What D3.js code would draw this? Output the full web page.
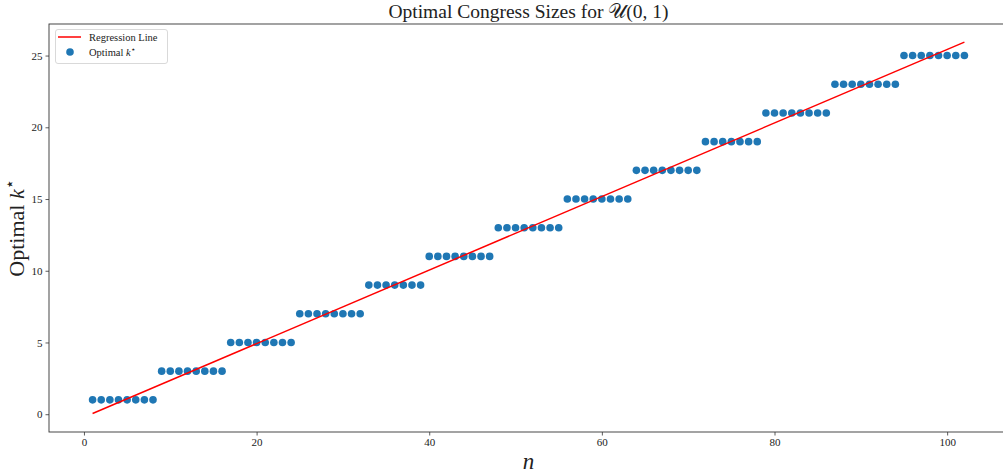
<!DOCTYPE html>
<html>
<head>
<meta charset="utf-8">
<script src="https://cdn.jsdelivr.net/npm/d3@7"></script>
<style>
  body { margin: 0; background: #fff; }
  svg { display: block; }
  text { font-family: "Liberation Serif", "DejaVu Serif", serif; }
</style>
</head>
<body>
<div id="chart"></div>
<script>
// ------------------------------------------------------------
// Data
// ------------------------------------------------------------
const nValues = [
    1, 2, 3, 4, 5, 6, 7, 8, 9, 10, 11, 12, 13, 14, 15, 16, 17, 18, 19, 20,
    21, 22, 23, 24, 25, 26, 27, 28, 29, 30, 31, 32, 33, 34, 35, 36, 37, 38, 39, 40,
    41, 42, 43, 44, 45, 46, 47, 48, 49, 50, 51, 52, 53, 54, 55, 56, 57, 58, 59, 60,
    61, 62, 63, 64, 65, 66, 67, 68, 69, 70, 71, 72, 73, 74, 75, 76, 77, 78, 79, 80,
    81, 82, 83, 84, 85, 86, 87, 88, 89, 90, 91, 92, 93, 94, 95, 96, 97, 98, 99, 100,
    101, 102
];
const optimalK = [
    1, 1, 1, 1, 1, 1, 1, 1,
    3, 3, 3, 3, 3, 3, 3, 3,
    5, 5, 5, 5, 5, 5, 5, 5,
    7, 7, 7, 7, 7, 7, 7, 7,
    9, 9, 9, 9, 9, 9, 9,
    11, 11, 11, 11, 11, 11, 11, 11,
    13, 13, 13, 13, 13, 13, 13, 13,
    15, 15, 15, 15, 15, 15, 15, 15,
    17, 17, 17, 17, 17, 17, 17, 17,
    19, 19, 19, 19, 19, 19, 19,
    21, 21, 21, 21, 21, 21, 21, 21,
    23, 23, 23, 23, 23, 23, 23, 23,
    25, 25, 25, 25, 25, 25, 25, 25
];
// regression line end points
const regN = [1, 102];
const regK = [0.05, 25.94];

const xTicks = [0, 20, 40, 60, 80, 100];
const yTicks = [0, 5, 10, 15, 20, 25];

// ------------------------------------------------------------
// Layout
// ------------------------------------------------------------
const width = 1003, height = 474;
const plot = { left: 49, top: 24, right: 1008, bottom: 432 };

const svg = d3.select("#chart")
    .append("svg")
    .attr("width", width)
    .attr("height", height);

const xScale = d3.scaleLinear()
    .domain([-4.05, 107.05])
    .range([plot.left, plot.right]);

const yScale = d3.scaleLinear()
    .domain([-1.24, 27.2])
    .range([plot.bottom, plot.top]);

// Axes
const xAxis = svg.append("g")
    .attr("transform", `translate(0,${plot.bottom})`)
    .call(d3.axisBottom(xScale).tickValues(xTicks).tickSize(3.5).tickPadding(3));

const yAxis = svg.append("g")
    .attr("transform", `translate(${plot.left},0)`)
    .call(d3.axisLeft(yScale).tickValues(yTicks).tickSize(3.5).tickPadding(3));

[xAxis, yAxis].forEach(g => {
    g.select(".domain").remove();
    g.selectAll(".tick line").attr("stroke", "#333").attr("stroke-width", 0.8);
    g.selectAll(".tick text")
        .attr("fill", "#222")
        .attr("font-size", "11px")
        .attr("font-family", "Liberation Serif, serif");
});

// Spines (right spine falls outside the picture)
svg.append("rect")
    .attr("x", plot.left)
    .attr("y", plot.top)
    .attr("width", plot.right - plot.left)
    .attr("height", plot.bottom - plot.top)
    .attr("fill", "none")
    .attr("stroke", "#333")
    .attr("stroke-width", 0.9);

// Scatter points
const points = nValues.map((n, i) => ({ n: n, k: optimalK[i] }));

svg.append("g")
    .selectAll("circle")
    .data(points)
    .enter()
    .append("circle")
    .attr("cx", d => xScale(d.n))
    .attr("cy", d => yScale(d.k))
    .attr("r", 3.8)
    .attr("fill", "#1f77b4");

// Regression line
const line = d3.line()
    .x(d => xScale(d[0]))
    .y(d => yScale(d[1]));

svg.append("path")
    .datum(regN.map((n, i) => [n, regK[i]]))
    .attr("d", line)
    .attr("fill", "none")
    .attr("stroke", "red")
    .attr("stroke-width", 1.5);

// Title
const title = svg.append("text")
    .attr("x", (plot.left + plot.right) / 2)
    .attr("y", 18)
    .attr("text-anchor", "middle")
    .attr("font-size", "19.5px")
    .attr("fill", "#222");
title.append("tspan").text("Optimal Congress Sizes for ");
title.append("tspan").text("\u{1D4B0}");
title.append("tspan").text("(0, 1)");

// Axis labels
svg.append("text")
    .attr("x", (plot.left + plot.right) / 2)
    .attr("y", 469)
    .attr("text-anchor", "middle")
    .attr("font-size", "23px")
    .attr("font-style", "italic")
    .attr("fill", "#222")
    .text("n");

const yLabel = svg.append("text")
    .attr("transform", `translate(24,${(plot.top + plot.bottom) / 2}) rotate(-90)`)
    .attr("text-anchor", "middle")
    .attr("font-size", "22px")
    .attr("fill", "#222");
yLabel.append("tspan").text("Optimal ");
yLabel.append("tspan").attr("font-style", "italic").text("k");
yLabel.append("tspan").attr("font-size", "16px").attr("dy", "-9")
    .attr("font-family", "DejaVu Sans, sans-serif").text("\u22C6");

// Legend
const legend = svg.append("g");
legend.append("rect")
    .attr("x", 55.5)
    .attr("y", 29.5)
    .attr("width", 112)
    .attr("height", 34)
    .attr("rx", 2.5)
    .attr("fill", "white")
    .attr("fill-opacity", 0.8)
    .attr("stroke", "#d5d5d5")
    .attr("stroke-width", 0.9);

legend.append("line")
    .attr("x1", 58).attr("x2", 81)
    .attr("y1", 37).attr("y2", 37)
    .attr("stroke", "red")
    .attr("stroke-width", 1.5);

legend.append("circle")
    .attr("cx", 70).attr("cy", 52)
    .attr("r", 3.8)
    .attr("fill", "#1f77b4");

legend.append("text")
    .attr("x", 89).attr("y", 40.5)
    .attr("font-size", "10.5px")
    .attr("fill", "#222")
    .text("Regression Line");

const legK = legend.append("text")
    .attr("x", 89).attr("y", 55.5)
    .attr("font-size", "10.5px")
    .attr("fill", "#222");
legK.append("tspan").text("Optimal ");
legK.append("tspan").attr("font-style", "italic").text("k");
legK.append("tspan").attr("font-size", "8px").attr("dy", "-4")
    .attr("font-family", "DejaVu Sans, sans-serif").text("\u22C6");
</script>
</body>
</html>
